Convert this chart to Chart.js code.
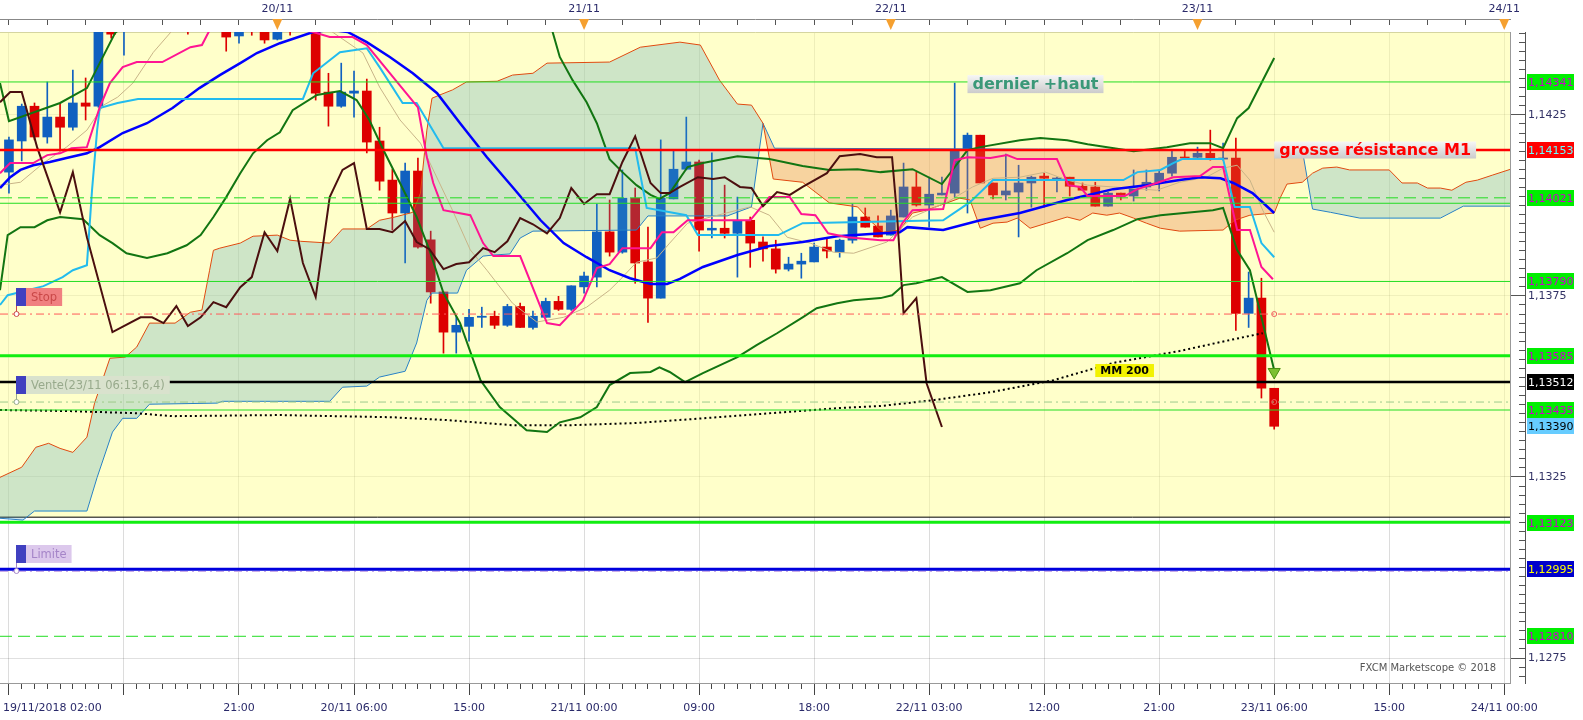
<!DOCTYPE html>
<html>
<head>
<meta charset="utf-8">
<script src="https://cdn.jsdelivr.net/npm/chart.js@4.4.1/dist/chart.umd.min.js"></script>
<style>
html, body { margin: 0; padding: 0; background: #fff; overflow: hidden; }
canvas { display: block; }
</style>
</head>
<body>
<canvas id="chart" width="1583" height="720"></canvas>
<script>
// hours counted from 19/11/2018 02:00
const hourMin = 0.3, hourMax = 118.45;
const priceMin = 1.12681, priceMax = 1.14479;

const timeLabelHours = [4.4, 19, 28, 37, 46, 55, 64, 73, 82, 91, 100, 109, 118];
const timeLabels = ['19/11/2018 02:00', '21:00', '20/11 06:00', '15:00', '21/11 00:00', '09:00', '18:00',
  '22/11 03:00', '12:00', '21:00', '23/11 06:00', '15:00', '24/11 00:00'];
const gridHours = [1, 10, 19, 28, 37, 46, 55, 64, 73, 82, 91, 100, 109, 118];
const dayHours = [22, 46, 70, 94, 118];
const dayLabels = ['20/11', '21/11', '22/11', '23/11', '24/11'];
const majorPriceTicks = [1.1275, 1.1325, 1.1375, 1.1425];

// hourly candles, first one at hour 1
const firstCandleHour = 1;
const candleOpen = [1.14092,1.14178,1.14274,1.14189,1.14244,1.14216,1.14283,1.14274,1.14526,1.14498,
  1.14553,1.14608,1.14650,1.14622,1.14664,1.14595,1.14636,1.14650,1.14468,1.14567,
  1.14553,1.14459,1.14539,1.14512,1.14567,1.14313,1.14274,1.14310,1.14316,1.14178,
  1.14070,1.13979,1.14095,1.13905,1.13761,1.13650,1.13666,1.13691,1.13694,1.13669,
  1.13721,1.13663,1.13691,1.13735,1.13713,1.13775,1.13802,1.13927,1.13871,1.14020,
  1.13844,1.13744,1.14018,1.14100,1.14120,1.13932,1.13937,1.13923,1.13959,1.13899,
  1.13880,1.13824,1.13838,1.13844,1.13885,1.13871,1.13904,1.13968,1.13943,1.13918,
  1.13968,1.14051,1.14001,1.14029,1.14034,1.14153,1.14194,1.14062,1.14029,1.14037,
  1.14062,1.14081,1.14073,1.14078,1.14053,1.14051,1.13998,1.14034,1.14026,1.14051,
  1.14064,1.14089,1.14133,1.14133,1.14144,1.14128,1.14131,1.13702,1.13744,1.13495];
const candleHigh = [1.14189,1.14280,1.14283,1.14341,1.14283,1.14374,1.14352,1.14553,1.14553,1.14595,
  1.14636,1.14677,1.14691,1.14691,1.14677,1.14664,1.14691,1.14664,1.14595,1.14608,
  1.14581,1.14567,1.14581,1.14608,1.14581,1.14365,1.14393,1.14371,1.14349,1.14216,
  1.14100,1.14117,1.14131,1.13929,1.13761,1.13694,1.13713,1.13719,1.13708,1.13727,
  1.13730,1.13708,1.13744,1.13749,1.13778,1.13816,1.14004,1.14015,1.14098,1.14048,
  1.13940,1.14181,1.14150,1.14244,1.14125,1.14145,1.14056,1.14023,1.13968,1.13913,
  1.13904,1.13857,1.13868,1.13896,1.13910,1.13907,1.14004,1.13993,1.13971,1.13987,
  1.14117,1.14092,1.14078,1.14078,1.14338,1.14200,1.14194,1.14062,1.14142,1.14111,
  1.14081,1.14089,1.14078,1.14078,1.14062,1.14064,1.14037,1.14034,1.14098,1.14098,
  1.14098,1.14155,1.14155,1.14161,1.14208,1.14172,1.14186,1.13816,1.13799,1.13495];
const candleLow = [1.14034,1.14123,1.14181,1.14172,1.14150,1.14208,1.14236,1.14271,1.14462,1.14415,
  1.14539,1.14581,1.14595,1.14600,1.14473,1.14567,1.14608,1.14426,1.14448,1.14470,
  1.14448,1.14457,1.14470,1.14498,1.14291,1.14219,1.14271,1.14244,1.14145,1.14042,
  1.13932,1.13841,1.13882,1.13730,1.13592,1.13592,1.13625,1.13663,1.13660,1.13666,
  1.13663,1.13658,1.13691,1.13710,1.13710,1.13758,1.13775,1.13860,1.13868,1.13785,
  1.13677,1.13744,1.14018,1.14098,1.13874,1.13910,1.13910,1.13802,1.13829,1.13846,
  1.13813,1.13819,1.13799,1.13844,1.13855,1.13857,1.13896,1.13940,1.13913,1.13918,
  1.13968,1.13998,1.13940,1.14029,1.14023,1.13979,1.14062,1.14018,1.14015,1.13913,
  1.13995,1.13995,1.14037,1.14026,1.14042,1.13998,1.13998,1.14015,1.14012,1.14042,
  1.14040,1.14081,1.14131,1.14131,1.14125,1.14125,1.13655,1.13663,1.13468,1.13382];
const candleClose = [1.14181,1.14274,1.14189,1.14244,1.14216,1.14283,1.14274,1.14526,1.14473,1.14553,
  1.14608,1.14650,1.14622,1.14664,1.14595,1.14636,1.14664,1.14465,1.14567,1.14553,
  1.14457,1.14539,1.14512,1.14567,1.14310,1.14274,1.14313,1.14316,1.14175,1.14067,
  1.13979,1.14095,1.13885,1.13761,1.13650,1.13669,1.13691,1.13694,1.13669,1.13721,
  1.13663,1.13694,1.13735,1.13713,1.13778,1.13805,1.13927,1.13871,1.14020,1.13841,
  1.13744,1.14020,1.14100,1.14120,1.13932,1.13937,1.13923,1.13959,1.13896,1.13880,
  1.13824,1.13838,1.13846,1.13885,1.13874,1.13904,1.13968,1.13940,1.13913,1.13971,
  1.14051,1.14001,1.14031,1.14034,1.14153,1.14194,1.14062,1.14029,1.14040,1.14062,
  1.14078,1.14075,1.14075,1.14053,1.14042,1.13998,1.14034,1.14026,1.14048,1.14064,
  1.14089,1.14133,1.14131,1.14144,1.14128,1.14131,1.13702,1.13744,1.13495,1.13390];

// indicator lines as [hour, price]
const maLine = [[0.3,1.14048],[1.1,1.14078],[1.9,1.14098],[2.9,1.14111],[4.2,1.14120],[5.5,1.14131],[7.1,1.14144],
  [8.1,1.14161],[9.9,1.14200],[11.8,1.14227],[13.8,1.14269],[15.9,1.14324],[17.5,1.14360],[19.1,1.14393],
  [20.4,1.14421],[22.2,1.14448],[24.8,1.14479],[26.2,1.14485],[27.5,1.14479],[29,1.14451],[30.8,1.14410],
  [32.6,1.14365],[34.5,1.14310],[36.3,1.14227],[38.4,1.14133],[40.4,1.14051],[42.6,1.13959],[44.4,1.13896],
  [46.2,1.13857],[48,1.13821],[49.6,1.13799],[51.2,1.13783],[52.5,1.13783],[53.5,1.13797],[55.3,1.13830],
  [58,1.13863],[60.5,1.13888],[63.1,1.13899],[65.8,1.13915],[68.4,1.13921],[70.7,1.13926],[71.3,1.13940],
  [74.1,1.13932],[77,1.13959],[80.1,1.13979],[83.8,1.14015],[87.4,1.14045],[90,1.14056],[92.6,1.14070],
  [94.2,1.14078],[95.8,1.14075],[96.8,1.14062],[98.3,1.14034],[100,1.13979]];
const kijunLine = [[0.3,1.13725],[0.9,1.13752],[1.6,1.13758],[3.7,1.13777],[5.2,1.13802],[6,1.13821],[7.1,1.13835],
  [7.5,1.14042],[7.9,1.14208],[8.1,1.14269],[9.5,1.14283],[11.1,1.14294],[24,1.14294],[24.8,1.14365],
  [26.9,1.14423],[29,1.14434],[30,1.14382],[31.8,1.14283],[32.9,1.14283],[35,1.14158],[50,1.14158],
  [50.9,1.13993],[54,1.13973],[54.9,1.13918],[61.2,1.13918],[63.1,1.13951],[74.1,1.13959],[76.2,1.14009],
  [78,1.14070],[88.2,1.14070],[89.3,1.14092],[91.1,1.14098],[92.1,1.14117],[92.8,1.14128],[96,1.14128],
  [96.9,1.13996],[98.1,1.13996],[99,1.13896],[100,1.13857]];
const tenkanLine = [[0.3,1.14089],[1.1,1.14117],[2.9,1.14117],[4,1.14139],[5,1.14144],[5.9,1.14158],[7.1,1.14161],
  [8.1,1.14271],[8.9,1.14338],[9.9,1.14382],[11,1.14396],[13,1.14396],[15.2,1.14437],[16.1,1.14443],
  [16.7,1.14484],[20.6,1.14512],[24.8,1.14479],[26.1,1.14465],[27.9,1.14465],[29,1.14443],[33,1.14271],
  [33.7,1.14133],[34.2,1.14062],[35,1.13987],[37.1,1.13973],[38.1,1.13896],[38.9,1.13860],[41,1.13860],
  [43.1,1.13675],[44.1,1.13669],[45.9,1.13736],[47,1.13827],[48,1.13838],[49,1.13882],[51.2,1.13882],
  [52.1,1.13926],[53,1.13926],[54.1,1.13959],[59,1.13959],[60.5,1.14023],[62.1,1.14023],[63,1.13976],
  [64.1,1.13973],[65.1,1.13923],[66.6,1.13912],[69.2,1.13904],[70.2,1.13904],[70.9,1.13951],[71.7,1.13987],
  [74.1,1.13990],[75,1.14125],[76,1.14133],[77.8,1.14131],[79.1,1.14139],[79.9,1.14128],[83,1.14128],
  [83.9,1.14056],[84.8,1.14051],[85.4,1.14026],[88.3,1.14026],[89.3,1.14045],[90.8,1.14062],[92.1,1.14078],
  [94.2,1.14081],[95.2,1.14106],[96,1.14106],[97.1,1.13932],[98.1,1.13932],[99,1.13830],[99.9,1.13796]];
const bandUpper = [[0.3,1.14338],[1,1.14233],[5,1.14283],[7.1,1.14324],[8.1,1.14393],[9.3,1.14476],[16,1.14677],
  [26,1.14760],[35.5,1.14650],[41.8,1.14567],[43.5,1.14484],[44.1,1.14410],[45.1,1.14346],[46.2,1.14285],
  [47,1.14227],[48,1.14128],[49,1.14092],[50.1,1.14056],[51.2,1.14029],[51.9,1.14018],[52.7,1.14034],
  [54.1,1.14106],[55.3,1.14117],[58,1.14136],[60.5,1.14128],[63.1,1.14109],[65.2,1.14098],[67.4,1.14100],
  [69.2,1.14092],[71.7,1.14100],[74,1.14059],[76,1.14153],[77,1.14161],[80.1,1.14180],[81.7,1.14186],
  [83.8,1.14180],[85.4,1.14169],[89,1.14150],[91.6,1.14161],[93.4,1.14172],[95,1.14172],[96,1.14158],
  [97.1,1.14241],[98,1.14269],[99,1.14338],[100,1.14407]];
const bandLower = [[0.3,1.13766],[0.9,1.13918],[1.9,1.13940],[3,1.13940],[4,1.13959],[5,1.13968],[6.8,1.13962],
  [8.1,1.13918],[9.1,1.13896],[10.2,1.13868],[11.8,1.13855],[13.4,1.13868],[14.9,1.13890],[16,1.13918],
  [17,1.13968],[18,1.14023],[19.1,1.14089],[20.1,1.14144],[21.2,1.14180],[22.2,1.14202],[23.2,1.14263],
  [25.1,1.14305],[26.9,1.14316],[28.2,1.14291],[29.2,1.14236],[30.3,1.14153],[31.6,1.14062],[32.9,1.13968],
  [33.9,1.13877],[35,1.13758],[36.3,1.13675],[37.9,1.13517],[39.4,1.13443],[41.5,1.13379],[43.1,1.13374],
  [44.1,1.13401],[45.7,1.13415],[47,1.13443],[48,1.13504],[49.6,1.13537],[51.2,1.13540],[51.9,1.13553],
  [52.7,1.13540],[53.9,1.13512],[55.3,1.13537],[58,1.13581],[59.5,1.13614],[61.1,1.13647],[63.1,1.13691],
  [64.2,1.13716],[65.8,1.13730],[67.1,1.13738],[69.2,1.13744],[70.1,1.13752],[71,1.13780],[72,1.13785],
  [74,1.13802],[76,1.13761],[77.8,1.13766],[80.1,1.13785],[81.4,1.13821],[83.8,1.13868],[85.4,1.13904],
  [87.4,1.13932],[89.3,1.13962],[91.1,1.13973],[95.2,1.13987],[96,1.13993],[96.5,1.13940],[97.1,1.13877],
  [98.1,1.13821],[99,1.13691],[100,1.13545]];
const chikouLine = [[0.3,1.14285],[1.1,1.14313],[2,1.14313],[3.2,1.14161],[5,1.13981],[6,1.14092],[7.1,1.13912],
  [9.1,1.13650],[11.3,1.13691],[12.2,1.13691],[13.1,1.13675],[14.1,1.13722],[15,1.13667],[16,1.13691],
  [17,1.13733],[18,1.13719],[19.1,1.13774],[20,1.13802],[21,1.13926],[22,1.13874],[23,1.14018],[24,1.13841],
  [25,1.13747],[26.1,1.14023],[27.1,1.14098],[28,1.14117],[29,1.13935],[30,1.13935],[31,1.13926],[32,1.13957],
  [32.9,1.13899],[33.9,1.13879],[35,1.13824],[36,1.13838],[37,1.13843],[38.1,1.13882],[39,1.13871],
  [40,1.13901],[41,1.13965],[42,1.13948],[43.1,1.13923],[44.1,1.13965],[45,1.14048],[46,1.14004],
  [47,1.14031],[48,1.14031],[49,1.14120],[50,1.14191],[51.2,1.14062],[52,1.14034],[52.7,1.14034],
  [53.5,1.14051],[54.9,1.14078],[56.1,1.14073],[57,1.14078],[58.2,1.14051],[59.1,1.14048],[60,1.13998],
  [61.1,1.14037],[62.1,1.14029],[63.1,1.14051],[65,1.14089],[66,1.14136],[67.6,1.14142],[68.9,1.14133],
  [70.1,1.14133],[70.5,1.13968],[71,1.13702],[72,1.13744],[72.8,1.13509],[74,1.13388]];
const fastMa = [[0.3,1.14056],[1.9,1.14064],[3.7,1.14117],[5.5,1.14161],[7.1,1.14208],[8.4,1.14277],[9.5,1.14299],
  [10.7,1.14338],[12.3,1.14423],[13.8,1.14484],[19.9,1.14595],[26.1,1.14484],[28.7,1.14421],[30,1.14327],
  [31.6,1.14236],[33.2,1.14172],[34.2,1.14098],[35.7,1.13987],[37.1,1.13877],[38.4,1.13821],[40.4,1.13730],
  [42.3,1.13678],[44.4,1.13691],[46.2,1.13719],[48,1.13766],[48.8,1.13794],[50.1,1.13843],[51.7,1.13855],
  [52.7,1.13896],[54.1,1.13951],[55.9,1.13968],[59,1.13996],[60.5,1.13973],[61.9,1.13912],[63.7,1.13896],
  [65.5,1.13871],[67.1,1.13868],[69.7,1.13899],[71.7,1.13968],[74.4,1.14009],[76.4,1.14051],[78,1.14075],
  [80.1,1.14078],[82.1,1.14092],[83.8,1.14070],[85.4,1.14056],[87.4,1.14051],[90.8,1.14042],[92.6,1.14064],
  [94.7,1.14078],[96,1.14103],[97.1,1.14111],[98.1,1.14070],[99.1,1.13987],[100,1.13926]];
const spanA = [[0.3,1.13249],[2,1.13277],[3.1,1.13332],[4.1,1.13343],[5,1.13329],[6,1.13318],[7.1,1.13360],
  [7.7,1.13454],[8.9,1.13578],[10.1,1.13581],[11,1.13609],[12,1.13675],[14,1.13675],[15.2,1.13705],
  [16.1,1.13711],[16.7,1.13821],[17,1.13876],[17.5,1.13882],[19.1,1.13896],[20.1,1.13915],[22,1.13918],
  [23,1.13904],[23.8,1.13901],[26.1,1.13896],[27.1,1.13935],[29,1.13935],[30,1.13959],[31.2,1.13968],
  [32.6,1.13981],[33.2,1.14034],[33.4,1.14106],[33.7,1.14208],[34.1,1.14296],[34.7,1.14305],[35.7,1.14319],
  [36.8,1.14341],[39.2,1.14343],[40.4,1.14360],[42,1.14365],[43.1,1.14393],[48,1.14396],[50.4,1.14437],
  [53.5,1.14451],[55.1,1.14443],[56.6,1.14346],[58,1.14280],[59.1,1.14277],[60,1.14227],[60.8,1.14073],
  [63.1,1.14064],[65.2,1.14007],[67.4,1.13996],[68.5,1.13954],[69.4,1.13926],[70.7,1.13932],[71.7,1.13979],
  [72.8,1.13987],[74.4,1.14007],[75.4,1.14020],[76.2,1.14015],[77,1.13937],[78,1.13951],[79.1,1.13954],
  [79.9,1.13965],[80.9,1.13937],[82.2,1.13951],[83.8,1.13968],[84.8,1.13959],[85.8,1.13979],[86.9,1.13973],
  [87.9,1.13979],[89,1.13965],[90,1.13951],[91.1,1.13937],[92.6,1.13929],[96,1.13932],[96.9,1.13959],
  [98.1,1.13973],[100,1.13979],[100.5,1.14023],[101,1.14059],[102.2,1.14064],[103,1.14089],[103.8,1.14103],
  [104.9,1.14106],[105.9,1.14098],[109,1.14098],[110,1.14062],[111.2,1.14062],[112,1.14048],[113,1.14048],
  [113.9,1.14042],[115,1.14064],[115.9,1.14070],[117.1,1.14084],[118.5,1.14100]];
const spanB = [[0.3,1.13136],[2.1,1.13131],[3,1.13156],[7.1,1.13156],[7.9,1.13249],[9.1,1.13374],[9.9,1.13412],
  [11,1.13412],[12,1.13451],[17.3,1.13454],[17.7,1.13459],[26.1,1.13459],[27.1,1.13498],[29,1.13501],
  [30,1.13526],[32,1.13542],[32.9,1.13620],[33.7,1.13738],[34.1,1.13758],[36.1,1.13758],[36.8,1.13821],
  [38.1,1.13860],[38.9,1.13863],[40.2,1.13866],[41,1.13910],[42,1.13929],[50.1,1.13932],[51,1.13971],
  [57.2,1.13971],[59.1,1.13996],[60,1.14227],[60.9,1.14158],[102.2,1.14153],[103,1.13990],[104.4,1.13981],
  [106.7,1.13965],[113,1.13965],[114.8,1.13998],[118.5,1.13998]];
const mm200 = [[0.3,1.13435],[5.8,1.13432],[11,1.13426],[13.8,1.13418],[22.2,1.13421],[31,1.13415],[35.3,1.13407],
  [40.4,1.13393],[44.9,1.13393],[50.1,1.13399],[55.3,1.13412],[60.5,1.13426],[65.8,1.13440],[69.2,1.13446],
  [73.3,1.13462],[77.8,1.13484],[82.7,1.13517],[87.4,1.13565],[92.6,1.13598],[96.5,1.13628],[99.1,1.13647]];

// horizontal levels
const levelPrices = [1.14341, 1.14153, 1.14021, 1.14006, 1.13790, 1.13700, 1.13585, 1.13512, 1.13457, 1.13435, 1.13125, 1.12995, 1.12989, 1.12810];
const levelColors = ['#22dd22', '#ff0000', '#22dd22', '#22dd22', '#22dd22', '#ff5a5a', '#11ee11', '#000000', '#9ccb8c', '#22dd22', '#11ee11', '#0000dd', '#c8a8e8', '#22dd22'];
const levelWidths = [1, 2.5, 1, 1, 1, 1, 3, 2.5, 1, 1, 3, 3, 1, 1];
const levelDashes = [[], [], [12, 6], [], [], [8, 4, 2, 4], [], [], [8, 4, 2, 4], [], [], [], [8, 4, 2, 4], [12, 6]];
const yellowZoneFloor = 1.13139;

// right axis price tags
const tagPrices = [1.14341, 1.14153, 1.14021, 1.13790, 1.13585, 1.13512, 1.13435, 1.13390, 1.13123, 1.12995, 1.12810];
const tagBg = ['#00ee00', '#ff0000', '#00ee00', '#00ee00', '#00ee00', '#000000', '#00ee00', '#66ccff', '#00ee00', '#0000cc', '#00ee00'];
const tagFg = ['#cc00cc', '#66ffff', '#cc00cc', '#cc00cc', '#cc00cc', '#ffffff', '#cc00cc', '#000000', '#cc00cc', '#ffff00', '#cc00cc'];

// order tags on the left (box centre price, order price)
const orderTexts = ['Stop', 'Vente(23/11 06:13,6,4)', 'Limite'];
const orderTagPrices = [1.13747, 1.13505, 1.13037];
const orderPrices = [1.13700, 1.13457, 1.12989];
const orderTagHour = 1.55;
const orderMarkHour = 100;
const signalArrow = [100, 1.13540];

const upColor = '#1060c0', downColor = '#dd0000';

const wickData = candleOpen.map((o, i) => ({ x: firstCandleHour + i, y: [candleLow[i], candleHigh[i]] }));
const bodyData = candleOpen.map((o, i) => ({ x: firstCandleHour + i, y: [o, candleClose[i]] }));
const candleColors = candleOpen.map((o, i) => candleClose[i] >= o ? upColor : downColor);

function pts(list) {
  return list.map(p => ({ x: p[0], y: p[1] }));
}
function lineSet(list, color, width, extra) {
  return Object.assign({
    type: 'line', data: pts(list), borderColor: color, borderWidth: width,
    pointRadius: 0, tension: 0, fill: false, order: 40
  }, extra || {});
}

const datasets = [];
datasets.push(lineSet([[hourMin, yellowZoneFloor], [hourMax, yellowZoneFloor]], '#000000', 1,
  { fill: 'end', backgroundColor: 'rgba(255,255,150,0.5)', order: 100 }));
datasets.push({ type: 'bar', data: wickData, backgroundColor: candleColors, barThickness: 1, grouped: false, order: 90 });
datasets.push({ type: 'bar', data: bodyData, backgroundColor: candleColors, barThickness: 9, minBarLength: 1, grouped: false, order: 80 });
const spanBIndex = datasets.length;
datasets.push(lineSet(spanB, '#1a80d0', 1, { order: 70 }));
datasets.push(lineSet(spanA, '#e04a10', 1, {
  order: 69,
  fill: { target: spanBIndex, above: 'rgba(60,150,190,0.25)', below: 'rgba(230,110,60,0.3)' }
}));
datasets.push(lineSet(fastMa, '#c8b488', 1, { order: 60 }));
datasets.push(lineSet(mm200, '#000000', 2, { borderDash: [2, 3], order: 59 }));
datasets.push(lineSet(bandUpper, '#127512', 2, { order: 50 }));
datasets.push(lineSet(bandLower, '#127512', 2, { order: 50 }));
datasets.push(lineSet(maLine, '#0000ff', 2.5, { order: 45 }));
datasets.push(lineSet(kijunLine, '#22bbee', 2, { order: 44 }));
datasets.push(lineSet(tenkanLine, '#ff1493', 2, { order: 43 }));
datasets.push(lineSet(chikouLine, '#4b0f0f', 2, { order: 42 }));
levelPrices.forEach((p, i) => {
  datasets.push(lineSet([[hourMin, p], [hourMax, p]], levelColors[i], levelWidths[i],
    { borderDash: levelDashes[i], order: 10 }));
});
datasets.push({
  type: 'line', showLine: false, data: [{ x: signalArrow[0], y: signalArrow[1] }],
  pointStyle: 'triangle', rotation: 180, pointRadius: 7,
  pointBackgroundColor: '#7cc030', pointBorderColor: '#4a9010', order: 1
});
datasets.push({
  type: 'line', showLine: false, data: orderPrices.slice(0, 2).map(p => ({ x: orderMarkHour, y: p })),
  pointStyle: 'circle', pointRadius: 2.5, pointBackgroundColor: 'rgba(0,0,0,0)',
  pointBorderColor: '#ee6060', pointBorderWidth: 1, order: 1
});

const isMajorPrice = v => majorPriceTicks.some(m => Math.abs(m - v) < 1e-7);
const minorPriceTicks = [];
for (let v = 1.1270; v <= priceMax + 1e-9; v += 0.00025) minorPriceTicks.push(Math.round(v * 100000) / 100000);

const bottomTicks = [];
for (let h = 1; h <= 118; h++) bottomTicks.push(h);
bottomTicks.push(4.4);
bottomTicks.sort((a, b) => a - b);
const topTicks = [];
for (let h = 1; h <= 118; h += 3) topTicks.push(h);

const axisFont = { family: 'DejaVu Sans', size: 11 };

function drawNote(ctx, text, px, cy, font, color, padX, h, flat) {
  ctx.font = font;
  const w = ctx.measureText(text).width + padX * 2;
  if (flat) {
    ctx.fillStyle = flat;
  } else {
    const g = ctx.createLinearGradient(0, cy - h / 2, 0, cy + h / 2);
    g.addColorStop(0, '#f6f6f6');
    g.addColorStop(1, '#cbcbcb');
    ctx.fillStyle = g;
  }
  ctx.fillRect(px, cy - h / 2, w, h);
  ctx.fillStyle = color;
  ctx.textAlign = 'left';
  ctx.textBaseline = 'middle';
  ctx.fillText(text, px + padX, cy + 1);
}

const overlay = {
  id: 'overlay',
  afterDraw(chart) {
    const ctx = chart.ctx;
    const xs = chart.scales.x, ys = chart.scales.y, rs = chart.scales.y2;
    const area = chart.chartArea;
    ctx.save();

    // day markers on the top axis
    ctx.fillStyle = '#f5a030';
    dayHours.forEach(h => {
      const px = xs.getPixelForValue(h);
      ctx.beginPath();
      ctx.moveTo(px - 5, 19);
      ctx.lineTo(px + 5, 19);
      ctx.lineTo(px, 30);
      ctx.closePath();
      ctx.fill();
    });

    // price tags
    ctx.font = '11px "DejaVu Sans"';
    ctx.textAlign = 'left';
    ctx.textBaseline = 'middle';
    tagPrices.forEach((p, i) => {
      const py = Math.round(ys.getPixelForValue(p));
      ctx.fillStyle = tagBg[i];
      ctx.fillRect(rs.left + 2, py - 8, 47, 16);
      ctx.fillStyle = tagFg[i];
      ctx.fillText(p.toFixed(5).replace('.', ','), rs.left + 3, py + 1);
    });

    // text notes
    drawNote(ctx, 'dernier +haut', xs.getPixelForValue(76), ys.getPixelForValue(1.14335),
      'bold 16px "DejaVu Sans"', '#3a9878', 5, 18);
    drawNote(ctx, 'grosse résistance M1', xs.getPixelForValue(100), ys.getPixelForValue(1.14153),
      'bold 16px "DejaVu Sans"', '#ff0000', 5, 17);
    drawNote(ctx, 'MM 200', xs.getPixelForValue(86), ys.getPixelForValue(1.13544),
      'bold 11px "DejaVu Sans"', '#000000', 5, 13, '#f2f200');

    // order tags
    const orderBg = ['#f08080', '#d9e2cd', '#dcc8ec'];
    const orderFg = ['#c94848', '#98aa8c', '#a585c8'];
    const ox = Math.round(xs.getPixelForValue(orderTagHour));
    ctx.font = '11.5px "DejaVu Sans"';
    orderTexts.forEach((t, i) => {
      const cy = Math.round(ys.getPixelForValue(orderTagPrices[i]));
      const ly = Math.round(ys.getPixelForValue(orderPrices[i]));
      const w = ctx.measureText(t).width + 10;
      ctx.strokeStyle = orderFg[i];
      ctx.lineWidth = 1;
      ctx.beginPath();
      ctx.moveTo(ox + 0.5, cy + 8);
      ctx.lineTo(ox + 0.5, ly - 2);
      ctx.stroke();
      ctx.beginPath();
      ctx.arc(ox + 0.5, ly, 2.5, 0, Math.PI * 2);
      ctx.fillStyle = '#ffffff';
      ctx.fill();
      ctx.stroke();
      ctx.fillStyle = '#4040c0';
      ctx.fillRect(ox, cy - 9, 10, 18);
      ctx.fillStyle = orderBg[i];
      ctx.fillRect(ox + 10, cy - 9, w, 18);
      ctx.fillStyle = orderFg[i];
      ctx.textBaseline = 'middle';
      ctx.fillText(t, ox + 15, cy + 1);
    });

    // watermark
    ctx.font = '10px "DejaVu Sans"';
    ctx.fillStyle = '#555555';
    ctx.textAlign = 'right';
    ctx.fillText('FXCM Marketscope © 2018', area.right - 14, area.bottom - 15);
    ctx.restore();
  }
};

new Chart(document.getElementById('chart'), {
  type: 'line',
  data: { datasets: datasets },
  options: {
    responsive: false,
    devicePixelRatio: 1,
    animation: false,
    events: [],
    layout: { padding: 0, autoPadding: false },
    plugins: { legend: { display: false }, tooltip: { enabled: false } },
    scales: {
      x: {
        type: 'linear', position: 'bottom', min: hourMin, max: hourMax, offset: false,
        afterBuildTicks: s => { s.ticks = bottomTicks.map(v => ({ value: v })); },
        afterFit: s => { s.height = 37; },
        ticks: {
          autoSkip: false, maxRotation: 0, minRotation: 0, padding: 7, color: '#2a2a6a', font: axisFont,
          callback: v => { const k = timeLabelHours.indexOf(v); return k >= 0 ? timeLabels[k] : ''; }
        },
        grid: {
          offset: false, tickLength: 12,
          color: c => gridHours.includes(c.tick.value) ? '#dcdcdc' : 'rgba(0,0,0,0)',
          tickColor: c => c.tick.value === 4.4 ? 'rgba(0,0,0,0)' : '#444444',
          tickBorderDash: c => gridHours.includes(c.tick.value) ? [] : [5, 20]
        },
        border: { color: '#999999' }
      },
      x2: {
        type: 'linear', position: 'top', min: hourMin, max: hourMax, weight: 2,
        afterBuildTicks: s => { s.ticks = dayHours.map(v => ({ value: v })); },
        afterFit: s => { s.height = 19; },
        ticks: {
          autoSkip: false, maxRotation: 0, padding: 3, color: '#2a2a6a', font: axisFont,
          callback: v => { const k = dayHours.indexOf(v); return k >= 0 ? dayLabels[k] : ''; }
        },
        grid: { display: false, tickLength: 0 },
        border: { display: true, color: '#888888' }
      },
      x3: {
        type: 'linear', position: 'top', min: hourMin, max: hourMax, weight: 1,
        afterBuildTicks: s => { s.ticks = topTicks.map(v => ({ value: v })); },
        afterFit: s => { s.height = 13; },
        ticks: { display: false },
        grid: { drawOnChartArea: false, tickLength: 13, tickColor: '#555555', tickBorderDash: [6, 20] },
        border: { color: '#aaaaaa' }
      },
      y: {
        type: 'linear', position: 'right', min: priceMin, max: priceMax,
        afterBuildTicks: s => { s.ticks = minorPriceTicks.map(v => ({ value: v })); },
        afterFit: s => { s.width = 15; },
        ticks: { display: false, autoSkip: false },
        grid: {
          tickLength: 15,
          color: c => isMajorPrice(c.tick.value) ? 'rgba(0,0,0,0.12)' : 'rgba(0,0,0,0)',
          tickColor: '#555555',
          tickBorderDash: c => isMajorPrice(c.tick.value) ? [] : [0, 8, 7, 30]
        },
        border: { color: '#999999' }
      },
      y2: {
        type: 'linear', position: 'right', min: priceMin, max: priceMax,
        afterBuildTicks: s => { s.ticks = majorPriceTicks.map(v => ({ value: v })); },
        afterFit: s => { s.width = 58; },
        ticks: {
          autoSkip: false, padding: 3, color: '#333366', font: axisFont,
          callback: v => v.toFixed(4).replace('.', ',')
        },
        grid: { drawOnChartArea: false, drawTicks: false },
        border: { color: '#555555' }
      }
    }
  },
  plugins: [overlay]
});
</script>
</body>
</html>
